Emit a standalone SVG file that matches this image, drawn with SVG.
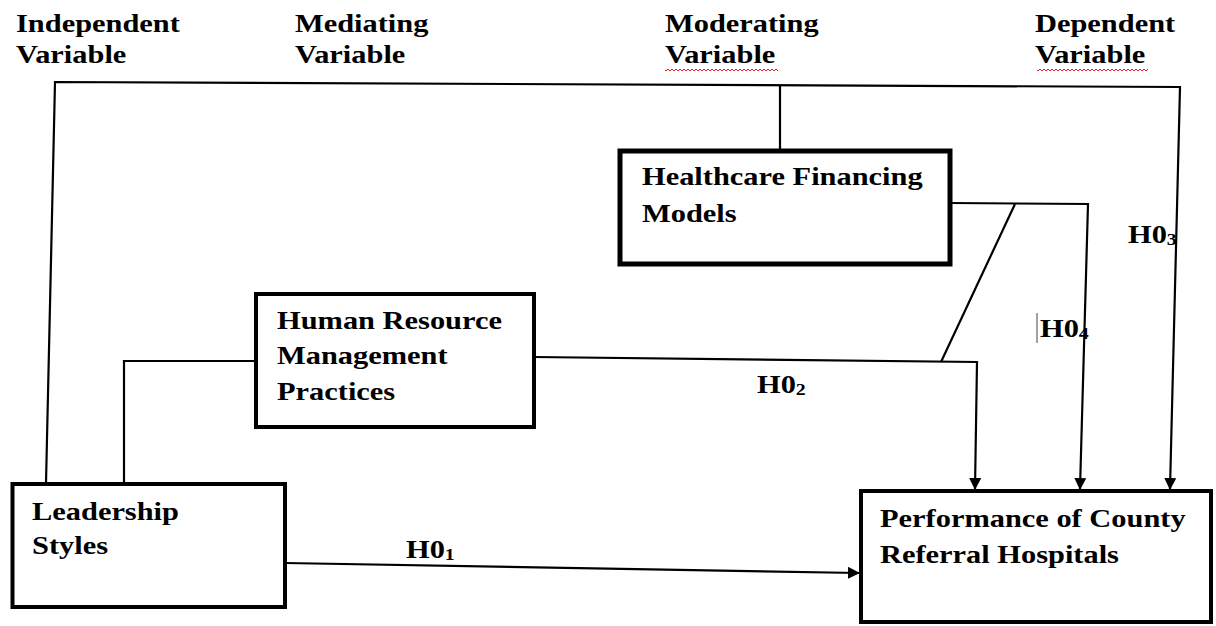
<svg xmlns="http://www.w3.org/2000/svg" width="1216" height="626" viewBox="0 0 1216 626">
<style>
  .t{font-family:"Liberation Serif","Times New Roman",serif;font-weight:bold;font-size:26px;fill:#000;}
  .sub{font-size:17px;}
  .box{fill:#fff;stroke:#000;stroke-width:4;}
  .c{fill:none;stroke:#000;stroke-width:2.2;}
  .wavy{fill:none;stroke:#e02020;stroke-width:1;}
</style>
<defs>
  <marker id="ah" markerUnits="userSpaceOnUse" markerWidth="14" markerHeight="14" refX="11" refY="6" orient="auto">
    <path d="M0,0 L12,6 L0,12 Z" fill="#000"/>
  </marker>
  <pattern id="wv" width="4" height="4" patternUnits="userSpaceOnUse"><path d="M0,1 L2,3 L4,1" class="wavy"/></pattern>
</defs>
<rect width="1216" height="626" fill="#fff"/>

<g id="headers">
  <text class="t" transform="translate(16,32) scale(1.17,1)"><tspan x="0" y="0">Independent</tspan><tspan x="0" y="31">Variable</tspan></text>
  <text class="t" transform="translate(295,32) scale(1.17,1)"><tspan x="0" y="0">Mediating</tspan><tspan x="0" y="31">Variable</tspan></text>
  <text class="t" transform="translate(665,32) scale(1.17,1)"><tspan x="0" y="0">Moderating</tspan><tspan x="0" y="31">Variable</tspan></text>
  <text class="t" transform="translate(1035,32) scale(1.17,1)"><tspan x="0" y="0">Dependent</tspan><tspan x="0" y="31">Variable</tspan></text>
  <rect x="665" y="67" width="113" height="4" fill="url(#wv)"/>
  <rect x="1037" y="67" width="111" height="4" fill="url(#wv)"/>
</g>

<g id="connectors">
  <polyline class="c" points="46,483 55,82 1180,87 1170,489" marker-end="url(#ah)"/>
  <line class="c" x1="780" y1="86" x2="780" y2="151"/>
  <polyline class="c" points="124,483 124,361 256,361"/>
  <polyline class="c" points="534,357 977,362 975,489" marker-end="url(#ah)"/>
  <polyline class="c" points="950,203 1088,204 1080,489" marker-end="url(#ah)"/>
  <line class="c" x1="1015" y1="204" x2="941" y2="362"/>
  <line class="c" x1="285" y1="563" x2="859" y2="573" marker-end="url(#ah)"/>
  <line x1="1037" y1="313" x2="1037" y2="343" stroke="#444" stroke-width="1"/>
</g>

<g id="labels">
  <text class="t" transform="translate(406,558) scale(1.17,1)">H0<tspan class="sub" dy="2">1</tspan></text>
  <text class="t" transform="translate(757,393) scale(1.17,1)">H0<tspan class="sub" dy="2">2</tspan></text>
  <text class="t" transform="translate(1128,243) scale(1.17,1)">H0<tspan class="sub" dy="2">3</tspan></text>
  <text class="t" transform="translate(1040,337) scale(1.17,1)">H0<tspan class="sub" dy="2">4</tspan></text>
</g>

<g id="leadership">
  <rect class="box" x="12.5" y="484" width="272.5" height="123"/>
  <text class="t" transform="translate(32,520) scale(1.17,1)"><tspan x="0" y="0">Leadership</tspan><tspan x="0" y="34">Styles</tspan></text>
</g>

<g id="hrm">
  <rect class="box" x="256" y="294" width="278" height="133"/>
  <text class="t" transform="translate(277,329) scale(1.17,1)"><tspan x="0" y="0">Human Resource</tspan><tspan x="0" y="35">Management</tspan><tspan x="0" y="71">Practices</tspan></text>
</g>

<g id="financing">
  <rect class="box" x="620" y="151" width="330" height="113" style="stroke-width:5"/>
  <text class="t" transform="translate(642,185) scale(1.17,1)"><tspan x="0" y="0">Healthcare Financing</tspan><tspan x="0" y="37">Models</tspan></text>
</g>

<g id="performance">
  <rect class="box" x="861" y="491" width="350" height="131"/>
  <text class="t" transform="translate(880,527) scale(1.17,1)"><tspan x="0" y="0">Performance of County</tspan><tspan x="0" y="36">Referral Hospitals</tspan></text>
</g>
</svg>
